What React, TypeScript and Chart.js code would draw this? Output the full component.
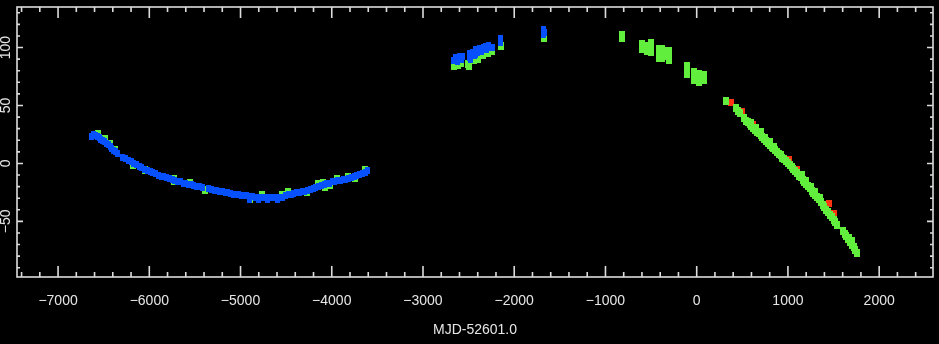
import React, { useEffect, useRef } from 'react';
import { Chart, registerables } from 'chart.js';

Chart.register(...registerables);

// ---- axes ----
const xMin = -7450;
const xMax = 2590;
const yMin = -98;
const yMax = 135;
const xTickValues = [-7000, -6000, -5000, -4000, -3000, -2000, -1000, 0, 1000, 2000];
const yTickValues = [-50, 0, 50, 100];
const xMinorStep = 200;
const yMinorStep = 10;
const xTitle = 'MJD-52601.0';

// ---- blue series ----
const blueX = [
  -6630, -6610, -6590, -6570, -6550, -6530, -6510, -6490, -6470, -6450, -6430, -6410, -6390, -6370, -6350,
  -6290, -6260, -6230, -6200, -6170, -6140, -6110, -6080, -6050, -6020, -5990, -5960, -5930, -5900, -5870,
  -5840, -5810, -5780, -5750, -5720, -5690, -5660, -5630, -5600, -5570, -5540, -5510, -5480, -5450, -5420,
  -5350, -5320, -5290, -5260, -5230, -5200, -5170, -5140, -5110, -5080, -5050, -5020, -4990, -4960, -4930,
  -4900, -4870, -4840, -4810, -4780, -4750, -4720, -4690, -4660, -4630, -4600, -4570, -4540,
  -4900, -4800, -4700, -4600,
  -4505, -4475, -4445, -4415, -4385, -4355, -4325, -4295, -4265, -4235, -4205, -4175, -4145, -4115, -4085,
  -4055, -4025, -3995, -3965, -3935, -3905, -3875, -3845, -3815, -3785, -3755, -3725, -3695, -3665, -3635, -3605,
  -2665, -2645, -2625, -2600, -2580, -2570, -2495, -2495, -2475, -2475, -2455, -2440, -2420, -2420, -2400,
  -2380, -2360, -2340, -2320, -2300, -2280, -2260, -2240, -2150, -2150, -1680, -1665, -1680,
];
const blueY = [
  23, 25, 24.5, 23.5, 22.5, 21, 20, 19, 17.5, 16, 14.5, 13, 11.5, 10, 8.5,
  5.5, 4, 2.5, 1.5, 0, -1, -2.5, -3.5, -5, -6, -7, -8, -9, -10, -11,
  -11.5, -12.5, -13, -14, -14.5, -15.5, -16, -17, -17.5, -18, -18.5, -19, -19.5, -20, -20.5,
  -22, -22.5, -23, -23.5, -24, -24.5, -25, -25.5, -26, -26.5, -27, -27, -27.5, -28, -28,
  -28.5, -28.5, -29, -29, -29, -29.5, -29.5, -29.5, -29.5, -29.5, -29.5, -29.5, -29,
  -31, -31.5, -31, -31,
  -27.5, -27, -26.5, -26, -25.5, -25, -24.5, -24, -23, -22.5, -22, -21, -20, -19, -18.5,
  -17.5, -17, -16, -15.5, -15, -14.5, -14, -13.5, -13, -12, -11, -10, -9.5, -8.5, -7.5, -6.5,
  89, 91, 88, 92, 90, 92, 95, 91, 94, 90, 96, 93, 98, 94, 96,
  99, 97, 100, 101, 98, 102, 100, 100, 108, 104, 116, 113, 111,
];

// ---- green series ----
const greenX = [
  -6557, -6484, -6429, -6374, -6174, -6045, -5728, -5728, -5552, -5388, -4895, -4767, -4547, -4475, -4273,
  -4150, -4100, -4073, -4018, -3945, -3817, -3744, -3635,
  -2665, -2620, -2580, -2505, -2495, -2440, -2400, -2340, -2290, -2240, -2150, -1670,
  -820, -820, -605, -605, -545, -545, -505, -505, -505, -410, -410, -410, -385, -385, -385, -360, -360,
  -300, -300, -300, -105, -105, -105, -30, -30, -30, 20, 20, 20, 50, 50, 80, 80,
  322, 430, 450, 470, 520, 540, 560, 580, 600, 620, 640, 660, 680, 700, 720, 740, 760, 780, 800,
  820, 840, 860, 880, 900, 920, 940, 960, 980, 1000, 1020, 1040, 1060, 1080, 1100, 1120, 1140, 1160,
  1180, 1200, 1220, 1240, 1260, 1280, 1300, 1320, 1340, 1360, 1380, 1400, 1420, 1440, 1460, 1480, 1500,
  1520, 1540, 1600, 1620, 1640, 1660, 1680, 1700, 1720, 1740, 1755,
  600, 650, 700, 750, 800, 850, 1150, 1200, 1250, 1300, 1350, 1670, 1700,
];
const greenY = [
  25, 21, 16.5, 12, -1.5, -6, -13, -15.5, -17, -22.5, -30.5, -27, -27, -25, -25,
  -18, -17, -20.5, -18.5, -13.5, -12, -12.5, -6,
  84.5, 85, 87, 86, 84, 89, 90, 94, 95, 97, 101, 108.5,
  111, 108, 103, 99, 101, 97, 104, 100, 96, 99, 95, 91, 99, 95, 91, 97, 93,
  97, 93, 89, 84, 80, 77, 79, 75, 72, 77, 73, 70, 76, 72, 76, 72,
  54, 47.5, 45, 43.5, 39.5, 37, 35.5, 34, 32, 30.5, 29, 27.5, 26, 24.5, 22.5, 21, 19.5, 18, 16,
  14.5, 13, 11.5, 10, 8.5, 7, 5, 3.5, 2, 0.5, -1.5, -3, -5, -6.5, -8.5, -10.5, -12, -14,
  -16, -18, -19.5, -21.5, -23.5, -25.5, -27.5, -29, -31, -33, -35.5, -38, -40, -42, -44.5, -46.5, -48.5,
  -50.5, -53, -58.5, -61, -63, -65, -67.5, -70, -72.5, -75, -77.5,
  35, 30.5, 27, 22, 18.5, 14.5, -10, -15.5, -20, -25, -29.5, -64, -67,
];

// ---- red series ----
const redX = [372, 498, 612, 692, 1008, 1100, 1447, 1500, 1738];
const redY = [52.5, 45, 33.5, 27, 3, -5.5, -34.5, -43, -75];

const axisColor = '#dcdcdc';
const labelColor = '#e6e6e6';
const fontFamily = '"Liberation Sans", Arial, sans-serif';

function fmt(v: number): string {
  return v < 0 ? '\u2212' + Math.abs(v) : String(v);
}

function makeMarker(color: string, w: number, h: number): HTMLCanvasElement {
  const c = document.createElement('canvas');
  c.width = w;
  c.height = h;
  const g = c.getContext('2d')!;
  g.fillStyle = color;
  g.fillRect(0, 0, w, h);
  return c;
}

function toPoints(xs: number[], ys: number[]) {
  return xs.map((x, i) => ({ x, y: ys[i] }));
}

const framePlugin = {
  id: 'frame',
  afterDatasetsDraw(chart: any) {
    const { ctx, chartArea: a } = chart;
    const xs = chart.scales.x;
    const ys = chart.scales.y;
    ctx.save();
    ctx.strokeStyle = axisColor;
    ctx.lineWidth = 1.6;
    ctx.strokeRect(a.left, a.top, a.right - a.left, a.bottom - a.top);
    ctx.beginPath();
    for (let v = Math.ceil(xMin / xMinorStep) * xMinorStep; v <= xMax; v += xMinorStep) {
      const px = xs.getPixelForValue(v);
      const len = xTickValues.includes(v) ? 11 : 5;
      ctx.moveTo(px, a.bottom);
      ctx.lineTo(px, a.bottom - len);
      ctx.moveTo(px, a.top);
      ctx.lineTo(px, a.top + len);
    }
    for (let v = Math.ceil(yMin / yMinorStep) * yMinorStep; v <= yMax; v += yMinorStep) {
      const py = ys.getPixelForValue(v);
      const len = yTickValues.includes(v) ? 6 : 3;
      ctx.moveTo(a.left, py);
      ctx.lineTo(a.left + len, py);
      ctx.moveTo(a.right, py);
      ctx.lineTo(a.right - len, py);
    }
    ctx.stroke();
    ctx.fillStyle = labelColor;
    ctx.font = '14px ' + fontFamily;
    ctx.textAlign = 'center';
    ctx.textBaseline = 'middle';
    ys.ticks.forEach((t: any) => {
      const py = ys.getPixelForValue(t.value);
      ctx.save();
      ctx.translate(6, py);
      ctx.rotate(-Math.PI / 2);
      ctx.fillText(fmt(t.value), 0, 0);
      ctx.restore();
    });
    ctx.restore();
  },
};

export default function App() {
  const ref = useRef<HTMLCanvasElement | null>(null);

  useEffect(() => {
    if (!ref.current) return;
    const blue = makeMarker('#0650ff', 5, 7);
    const green = makeMarker('#62ee3c', 6, 8);
    const red = makeMarker('#ff3412', 6, 7);
    const chart = new Chart(ref.current, {
      type: 'scatter',
      data: {
        datasets: [
          { label: 'blue', data: toPoints(blueX, blueY), pointStyle: blue as any, pointRadius: 3, pointHoverRadius: 3 },
          { label: 'green', data: toPoints(greenX, greenY), pointStyle: green as any, pointRadius: 3, pointHoverRadius: 3 },
          { label: 'red', data: toPoints(redX, redY), pointStyle: red as any, pointRadius: 3, pointHoverRadius: 3 },
        ],
      },
      options: {
        animation: false,
        responsive: false,
        events: [],
        layout: { padding: { top: 7, right: 6, left: 0, bottom: 0 } },
        plugins: { legend: { display: false }, tooltip: { enabled: false } },
        scales: {
          x: {
            type: 'linear',
            min: xMin,
            max: xMax,
            grid: { display: false },
            border: { display: false },
            afterBuildTicks: (scale: any) => {
              scale.ticks = xTickValues.map((v) => ({ value: v }));
            },
            afterFit: (scale: any) => {
              scale.height = 67;
            },
            ticks: {
              color: labelColor,
              font: { family: fontFamily, size: 14 },
              padding: 8,
              maxRotation: 0,
              autoSkip: false,
              callback: (v: any) => fmt(Number(v)),
            },
            title: {
              display: true,
              text: xTitle,
              color: labelColor,
              font: { family: fontFamily, size: 14 },
              padding: { top: 0, bottom: 5 },
            },
          },
          y: {
            type: 'linear',
            min: yMin,
            max: yMax,
            grid: { display: false },
            border: { display: false },
            afterBuildTicks: (scale: any) => {
              scale.ticks = yTickValues.map((v) => ({ value: v }));
            },
            afterFit: (scale: any) => {
              scale.width = 17;
            },
            ticks: { display: false },
          },
        },
      },
      plugins: [framePlugin],
    });
    return () => chart.destroy();
  }, []);

  return (
    <div style={{ position: 'absolute', left: 0, top: 0, width: 939, height: 344, background: '#000' }}>
      <canvas ref={ref} width={939} height={344} style={{ display: 'block' }} />
    </div>
  );
}
